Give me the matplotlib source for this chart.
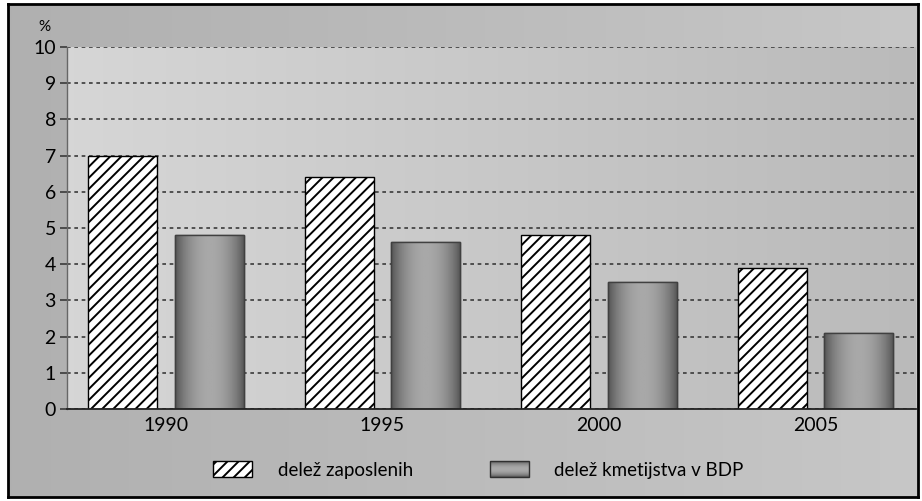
import numpy as np
import matplotlib
matplotlib.use('Agg')
import matplotlib.pyplot as plt
from matplotlib.patches import Rectangle
from matplotlib.legend_handler import HandlerBase

plt.rcParams['font.family'] = ['Lato', 'DejaVu Sans']
plt.rcParams['hatch.linewidth'] = 1.4

years = ['1990', '1995', '2000', '2005']
zaposleni = [7.0, 6.4, 4.8, 3.9]
kmetijstvo = [4.8, 4.6, 3.5, 2.1]
yticks = list(range(0, 11))
labels = ['delež zaposlenih', 'delež kmetijstva v BDP']


def shade(t):
    # cylinder like grey: dark edges, light middle
    return 0.30 + 0.36 * np.sin(np.pi * t) ** 0.7


def hgrad(c0, c1, n=256):
    g = np.linspace(c0, c1, n)
    return np.dstack([g, g, g])


class GradHandler(HandlerBase):
    def create_artists(self, legend, orig_handle, xdescent, ydescent,
                       width, height, fontsize, trans):
        arts = []
        n = 16
        for i in range(n):
            g = shade((i + 0.5) / n)
            arts.append(Rectangle((-xdescent, -ydescent + i * height / n), width, height / n,
                                  facecolor=(g, g, g), edgecolor='none', transform=trans))
        arts.append(Rectangle((-xdescent, -ydescent), width, height, facecolor='none',
                              edgecolor='#303030', linewidth=1, transform=trans))
        return arts


fig = plt.figure(figsize=(9.22, 5.01), dpi=100, facecolor='white')

# outer grey panel with frame
bg = fig.add_axes([8 / 922, 4 / 501, 910 / 922, 493 / 501], zorder=0)
bg.imshow(hgrad(0.69, 0.78), aspect='auto', extent=[0, 1, 0, 1])
bg.set_xticks([])
bg.set_yticks([])
for s in bg.spines.values():
    s.set_linewidth(2)
    s.set_color('black')

ax = fig.add_axes([67 / 922, 92 / 501, 849 / 922, 362 / 501], zorder=1)
x = np.arange(len(years))
xlim = (-0.457, 3.464)

# plot area gradient, lighter on the left
ax.imshow(hgrad(0.84, 0.73), aspect='auto', extent=[xlim[0], xlim[1], 0, 10], zorder=0)

ax.set_yticks(yticks)
ax.yaxis.grid(True, linestyle=(0, (2.2, 2.2)), color='#3a3a3a', linewidth=1.2, zorder=1)

ax.bar(x - 0.2, zaposleni, width=0.32, facecolor='white', edgecolor='black',
       hatch='///', linewidth=1.0, zorder=3)
grey = ax.bar(x + 0.2, kmetijstvo, width=0.32, facecolor='#8a8a8a', edgecolor='#404040',
              linewidth=1.0, zorder=3)
cyl = shade(np.linspace(0, 1, 128))[None, :]
for p in grey.patches:
    x0, w, h = p.get_x(), p.get_width(), p.get_height()
    im = ax.imshow(cyl, cmap='gray', vmin=0, vmax=1, aspect='auto',
                   extent=[x0, x0 + w, 0, h], zorder=3.5)
    im.set_clip_path(p)
    ax.add_patch(Rectangle((x0, 0), w, h, facecolor='none', edgecolor='#404040',
                           linewidth=1.0, zorder=4))

ax.set_xlim(*xlim)
ax.set_ylim(0, 10)
ax.set_xticks(x)
ax.set_xticklabels(years, fontsize=14)
ax.tick_params(axis='x', length=0, pad=6)
ax.tick_params(axis='y', length=5, width=1.2, color='#3a3a3a', labelsize=14, pad=3)
for s in ['top', 'right']:
    ax.spines[s].set_visible(False)
ax.spines['left'].set_color('#666666')
ax.spines['left'].set_linewidth(1)
ax.spines['bottom'].set_color('#222222')
ax.spines['bottom'].set_linewidth(1.3)
ax.spines['bottom'].set_zorder(5)

fig.text(44 / 922, 1 - 27 / 501, '%', ha='center', va='center', fontsize=11)

h1 = Rectangle((0, 0), 1, 1, facecolor='white', edgecolor='black', hatch='///', linewidth=1)
h2 = Rectangle((0, 0), 1, 1, facecolor='#8a8a8a')
leg = fig.legend([h1, h2], labels, loc='center left', ncol=2,
                 bbox_to_anchor=(213 / 922, 31 / 501), frameon=False, fontsize=13.5,
                 handlelength=2.1, handleheight=0.95, handletextpad=1.35,
                 columnspacing=4.1, borderpad=0, borderaxespad=0,
                 handler_map={h2: GradHandler()})

fig.savefig('out.png', dpi=100, facecolor='white')
